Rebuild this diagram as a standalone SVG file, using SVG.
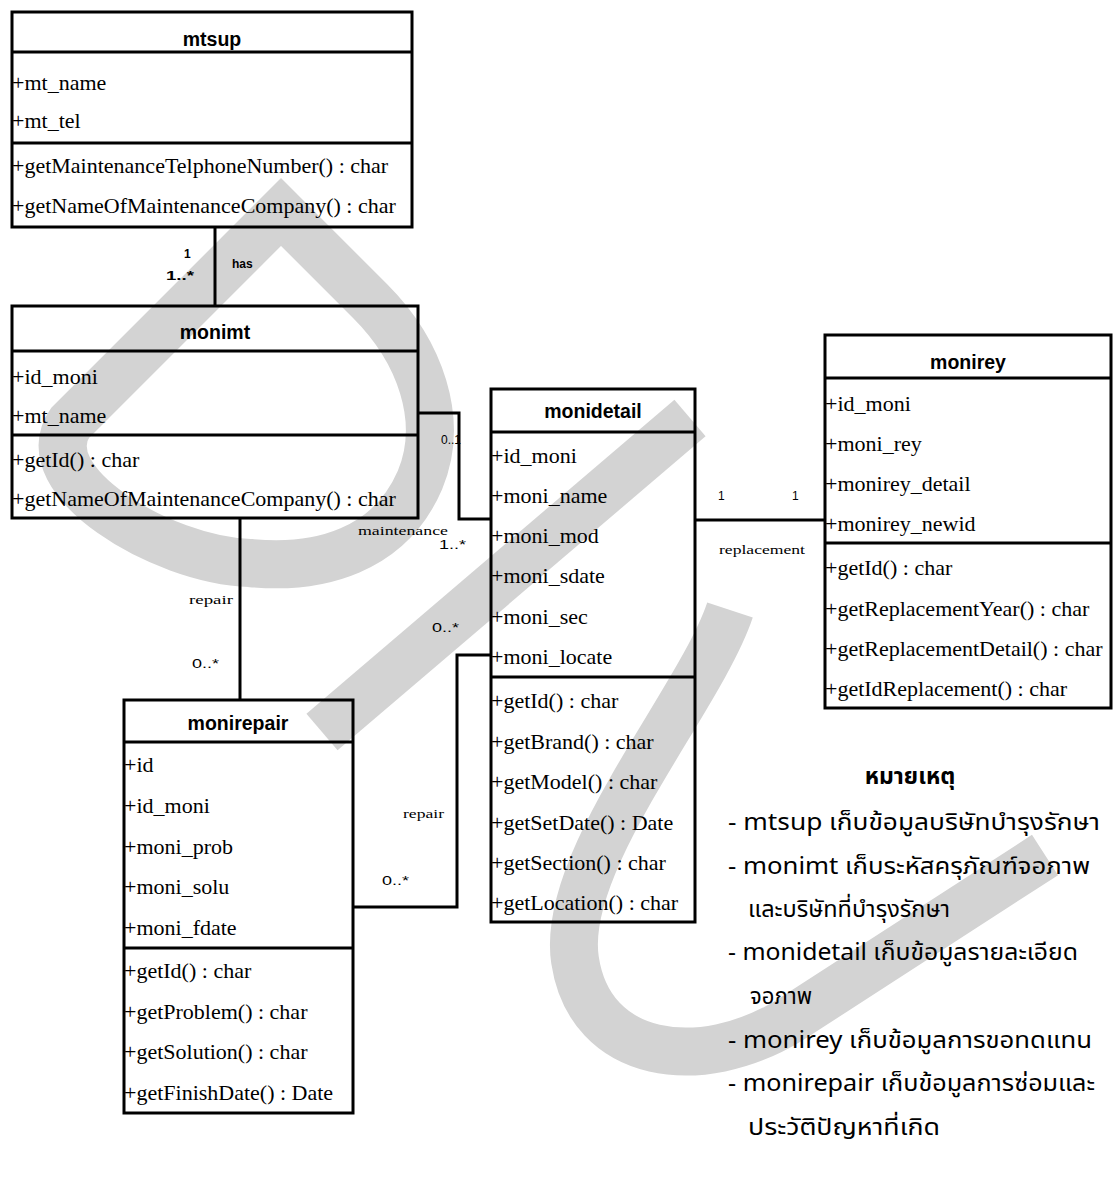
<svg xmlns="http://www.w3.org/2000/svg" width="1113" height="1182" viewBox="0 0 1113 1182">
<style>
.bg{fill:#ffffff}
.wm{fill:none;stroke:#d3d3d3;stroke-width:48;stroke-linejoin:miter}
.box{fill:none;stroke:#000;stroke-width:3}
.sep{stroke:#000;stroke-width:3}
.con{fill:none;stroke:#000;stroke-width:3}
.t{font-family:"Liberation Serif","Times New Roman",serif;font-size:22px;fill:#000}
.h{font-family:"Liberation Sans",Arial,sans-serif;font-weight:bold;font-size:19.5px;text-anchor:middle;fill:#000}
.n{font-family:"Liberation Sans",Arial,sans-serif;font-size:12px;fill:#000}
.nb{font-family:"Liberation Sans",Arial,sans-serif;font-size:12px;font-weight:bold;fill:#000}
.l{font-family:"Liberation Serif","Times New Roman",serif;font-size:13px;fill:#000}
.th{font-family:"Noto Sans Thai","Noto Sans","DejaVu Sans",sans-serif;font-size:23px;fill:#000}
.thb{font-family:"Noto Sans Thai","Noto Sans","DejaVu Sans",sans-serif;font-size:23px;font-weight:bold;fill:#000;text-anchor:middle}
</style>
<rect class="bg" x="0" y="0" width="1113" height="1182"/>
<g id="watermark">
<path class="wm" d="M281,212 L370,301 C420,351 445,420 420,480 C390,550 320,570 250,563 C160,560 30,480 70,423 Z"/>
<path class="wm" d="M322,732 L690,418" style="stroke-linecap:butt"/>
<path class="wm" d="M730,610 C700,700 560,860 575,960 C590,1060 700,1075 790,1020 L1045,855"/>
</g>
<g id="connectors">
<path class="con" d="M215,227 V306"/>
<path class="con" d="M418,413 H459 V519 H491"/>
<path class="con" d="M240,518 V700"/>
<path class="con" d="M491,655 H457 V907 H353"/>
<path class="con" d="M695,520 H825"/>
<text class="nb" x="184" y="258">1</text>
<text class="nb" x="166" y="280" textLength="28" lengthAdjust="spacingAndGlyphs">1..*</text>
<text class="nb" x="232" y="268">has</text>
<text class="n" x="441" y="444">0..1</text>
<text class="l" x="358" y="535" textLength="90" lengthAdjust="spacingAndGlyphs">maintenance</text>
<text class="n" x="439" y="549" textLength="27" lengthAdjust="spacingAndGlyphs">1..*</text>
<text class="l" x="189" y="604" textLength="44" lengthAdjust="spacingAndGlyphs">repair</text>
<text class="n" x="192" y="668" textLength="27" lengthAdjust="spacingAndGlyphs">0..*</text>
<text class="n" x="432" y="632" textLength="27" lengthAdjust="spacingAndGlyphs">0..*</text>
<text class="l" x="403" y="818" textLength="41" lengthAdjust="spacingAndGlyphs">repair</text>
<text class="n" x="382" y="885" textLength="27" lengthAdjust="spacingAndGlyphs">0..*</text>
<text class="n" x="718" y="500">1</text>
<text class="n" x="792" y="500">1</text>
<text class="l" x="719" y="554" textLength="86" lengthAdjust="spacingAndGlyphs">replacement</text>
</g>
<g id="mtsup">
<rect class="box" x="12" y="12" width="400" height="215"/>
<line class="sep" x1="12" y1="52" x2="412" y2="52"/>
<line class="sep" x1="12" y1="143" x2="412" y2="143"/>
<text class="h" x="212" y="46">mtsup</text>
<text class="t" x="12" y="90">+mt_name</text>
<text class="t" x="12" y="128">+mt_tel</text>
<text class="t" x="12" y="173">+getMaintenanceTelphoneNumber() : char</text>
<text class="t" x="12" y="213">+getNameOfMaintenanceCompany() : char</text>
</g>
<g id="monimt">
<rect class="box" x="12" y="306" width="406" height="212"/>
<line class="sep" x1="12" y1="351" x2="418" y2="351"/>
<line class="sep" x1="12" y1="435" x2="418" y2="435"/>
<text class="h" x="215" y="339">monimt</text>
<text class="t" x="12" y="384">+id_moni</text>
<text class="t" x="12" y="423">+mt_name</text>
<text class="t" x="12" y="467">+getId() : char</text>
<text class="t" x="12" y="506">+getNameOfMaintenanceCompany() : char</text>
</g>
<g id="monidetail">
<rect class="box" x="491" y="389" width="204" height="533"/>
<line class="sep" x1="491" y1="432" x2="695" y2="432"/>
<line class="sep" x1="491" y1="677" x2="695" y2="677"/>
<text class="h" x="593" y="418">monidetail</text>
<text class="t" x="491" y="463">+id_moni</text>
<text class="t" x="491" y="503">+moni_name</text>
<text class="t" x="491" y="543">+moni_mod</text>
<text class="t" x="491" y="583">+moni_sdate</text>
<text class="t" x="491" y="624">+moni_sec</text>
<text class="t" x="491" y="664">+moni_locate</text>
<text class="t" x="491" y="708">+getId() : char</text>
<text class="t" x="491" y="749">+getBrand() : char</text>
<text class="t" x="491" y="789">+getModel() : char</text>
<text class="t" x="491" y="830">+getSetDate() : Date</text>
<text class="t" x="491" y="870">+getSection() : char</text>
<text class="t" x="491" y="910">+getLocation() : char</text>
</g>
<g id="monirey">
<rect class="box" x="825" y="335" width="286" height="373"/>
<line class="sep" x1="825" y1="378" x2="1111" y2="378"/>
<line class="sep" x1="825" y1="543" x2="1111" y2="543"/>
<text class="h" x="968" y="369">monirey</text>
<text class="t" x="825" y="411">+id_moni</text>
<text class="t" x="825" y="451">+moni_rey</text>
<text class="t" x="825" y="491">+monirey_detail</text>
<text class="t" x="825" y="531">+monirey_newid</text>
<text class="t" x="825" y="575">+getId() : char</text>
<text class="t" x="825" y="616">+getReplacementYear() : char</text>
<text class="t" x="825" y="656">+getReplacementDetail() : char</text>
<text class="t" x="825" y="696">+getIdReplacement() : char</text>
</g>
<g id="monirepair">
<rect class="box" x="124" y="700" width="229" height="413"/>
<line class="sep" x1="124" y1="742" x2="353" y2="742"/>
<line class="sep" x1="124" y1="948" x2="353" y2="948"/>
<text class="h" x="238" y="730">monirepair</text>
<text class="t" x="124" y="772">+id</text>
<text class="t" x="124" y="813">+id_moni</text>
<text class="t" x="124" y="854">+moni_prob</text>
<text class="t" x="124" y="894">+moni_solu</text>
<text class="t" x="124" y="935">+moni_fdate</text>
<text class="t" x="124" y="978">+getId() : char</text>
<text class="t" x="124" y="1019">+getProblem() : char</text>
<text class="t" x="124" y="1059">+getSolution() : char</text>
<text class="t" x="124" y="1100">+getFinishDate() : Date</text>
</g>
<g id="legend">
<text class="thb" x="910" y="784">หมายเหตุ</text>
<text class="th" x="728" y="830" textLength="372" lengthAdjust="spacingAndGlyphs">- mtsup เก็บข้อมูลบริษัทบำรุงรักษา</text>
<text class="th" x="728" y="874" textLength="362" lengthAdjust="spacingAndGlyphs">- monimt เก็บระหัสครุภัณฑ์จอภาพ</text>
<text class="th" x="748" y="917" textLength="202" lengthAdjust="spacingAndGlyphs">และบริษัทที่บำรุงรักษา</text>
<text class="th" x="728" y="960" textLength="350" lengthAdjust="spacingAndGlyphs">- monidetail เก็บข้อมูลรายละเอียด</text>
<text class="th" x="750" y="1004" textLength="62" lengthAdjust="spacingAndGlyphs">จอภาพ</text>
<text class="th" x="728" y="1048" textLength="364" lengthAdjust="spacingAndGlyphs">- monirey เก็บข้อมูลการขอทดแทน</text>
<text class="th" x="728" y="1091" textLength="367" lengthAdjust="spacingAndGlyphs">- monirepair เก็บข้อมูลการซ่อมและ</text>
<text class="th" x="748" y="1135" textLength="192" lengthAdjust="spacingAndGlyphs">ประวัติปัญหาที่เกิด</text>
</g>
</svg>
